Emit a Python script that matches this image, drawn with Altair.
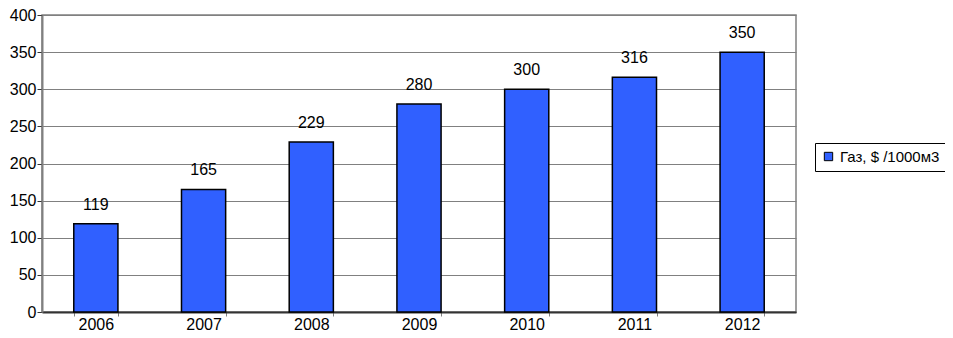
import altair as alt
import pandas as pd

years = ["2006", "2007", "2008", "2009", "2010", "2011", "2012"]
values = [119, 165, 229, 280, 300, 316, 350]
series = "Газ, $ /1000м3"

df = pd.DataFrame({"year": years, "value": values, "series": [series] * len(years)})

FONT = "Liberation Sans"
FS = 16

base = alt.Chart(df).encode(
    x=alt.X("year:N", title=None, sort=years,
            scale=alt.Scale(paddingInner=0.59, paddingOuter=0.295),
            axis=alt.Axis(labelAngle=0, labelFontSize=FS, labelFont=FONT, labelColor="black",
                          domainColor="#333333", domainWidth=2, tickColor="#808080",
                          tickBand="extent", tickSize=4, labelPadding=0, grid=False)),
    y=alt.Y("value:Q", title=None, scale=alt.Scale(domain=[0, 400], nice=False),
            axis=alt.Axis(values=[0, 50, 100, 150, 200, 250, 300, 350, 400],
                          labelOverlap=False, labelFontSize=FS, labelFont=FONT,
                          labelColor="black", domainColor="#808080", domainWidth=2,
                          tickColor="#333333", tickSize=5, labelPadding=1,
                          gridColor="#808080", gridWidth=1.2)),
)

bars = base.mark_bar(stroke="black", strokeWidth=1.5).encode(
    color=alt.Color("series:N", scale=alt.Scale(range=["#3060FF"]),
                    legend=alt.Legend(title=None, orient="none", legendX=773, legendY=128,
                                      symbolType="square", symbolSize=70, symbolStrokeColor="black",
                                      symbolStrokeWidth=1, labelFontSize=15, labelFont=FONT,
                                      labelColor="black", strokeColor="black", padding=6,
                                      fillColor="white", labelLimit=200)),
)

labels = base.mark_text(dy=-11, baseline="bottom", fontSize=FS, font=FONT, color="black").encode(
    text="value:Q"
)

chart = (bars + labels).properties(
    width=754, height=297,
    padding={"left": 34, "top": 7, "right": 149, "bottom": 26},
    autosize=alt.AutoSizeParams(type="none"),
).configure_view(stroke="#808080", strokeWidth=1.5)

chart.save("out.html", embed_options={"renderer": "svg", "actions": False})
